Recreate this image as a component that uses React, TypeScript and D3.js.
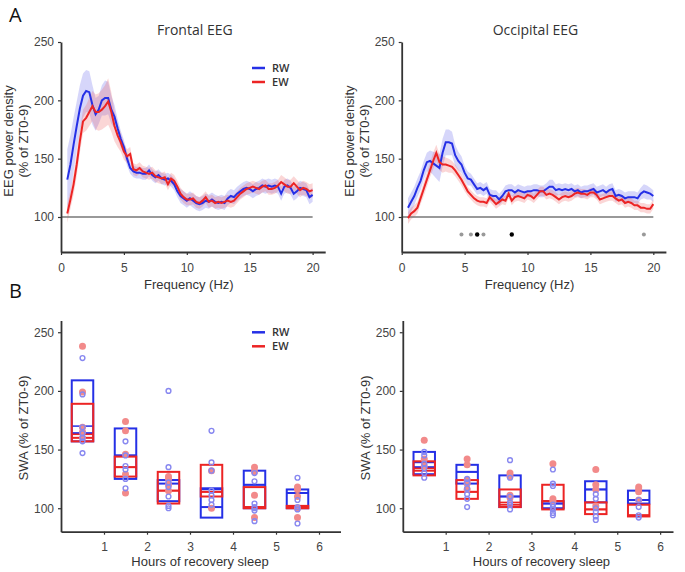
import React, { useEffect, useRef } from 'react';
import * as d3 from 'd3';

// frequency bins (Hz), 0.5 .. 20 in 0.25 steps
const freqs: number[] = d3.range(0.5, 20.01, 0.25);

// Frontal EEG, % of ZT0-9
const frontalRW = [132,145,162,178,193,204,208,207,196,188, 192,200,202,202,192,186,176,167,160,150,
  142,139,138,138,137,137,140,136,134,136, 133,132,133,131,128,122,118,116,114,116,
  114,112,111,112,114,113,115,113,112,113, 112,116,118,117,120,122,124,125,124,122,
  124,125,127,126,127,126,127,126,120,126, 127,125,120,122,125,124,123,117,119];
const frontalRWsem = [26,25,23,21,20,19,18,18,17,14, 12,13,15,14,12,10,8,7,6,6,
  5,5,5,5,5,5,5,5,5,5, 5,5,5,5,5,5,6,6,6,6,
  6,6,6,6,6,6,6,6,6,6, 6,6,6,6,6,6,6,6,6,6,
  6,6,6,6,6,6,6,6,6,6, 6,6,6,6,6,6,6,6,6];
const frontalEW = [103,115,128,145,165,182,185,190,195,190, 190,192,195,199,190,178,170,164,156,152,
  154,141,140,142,139,138,137,138,135,134, 133,134,128,133,131,126,120,117,115,115,
  116,113,112,114,117,113,114,112,113,112, 113,114,113,114,117,120,122,124,125,126,
  125,124,126,127,124,124,125,127,130,128, 126,126,129,126,123,125,124,122,123];
const frontalEWsem = [8,8,9,10,10,10,11,12,13,15, 16,17,18,20,17,13,10,8,7,6,
  6,5,5,5,5,5,5,5,5,5, 5,5,5,5,5,5,5,5,5,5,
  5,5,5,5,5,5,5,5,5,5, 5,5,5,5,5,5,5,5,5,5,
  5,5,5,5,5,5,5,5,6,6, 6,6,6,6,6,6,6,6,6];

// Occipital EEG, % of ZT0-9
const occipitalRW = [108,113,118,125,131,140,147,148,146,144, 142,155,164,164,163,153,148,145,138,133,
  132,128,124,125,123,125,119,118,118,115, 118,122,123,123,121,123,122,121,122,122,
  123,123,122,122,124,126,126,123,124,123, 124,123,124,122,123,121,122,122,123,124,
  121,122,123,121,123,124,118,119,118,116, 117,117,117,116,120,122,121,120,118];
const occipitalRWsem = [8,8,8,8,8,8,8,9,10,11, 12,12,11,11,10,9,8,7,6,6,
  5,5,5,5,5,5,5,5,5,5, 5,5,5,5,5,5,5,5,5,5,
  5,5,5,5,5,6,6,5,5,5, 5,5,5,5,5,5,5,5,5,5,
  5,5,5,5,5,5,5,5,5,5, 5,5,5,5,5,6,6,5,5];
const occipitalEW = [99,103,105,108,116,124,132,140,148,155, 147,145,145,144,143,140,136,132,127,122,
  119,116,114,113,113,112,117,114,111,113, 115,114,120,114,117,118,117,116,119,118,
  116,119,122,122,119,120,119,117,115,117, 118,117,118,120,121,120,120,119,121,121,
  119,115,116,117,118,118,116,114,115,112, 113,112,110,110,108,108,107,107,111];
const occipitalEWsem = [5,5,5,5,5,6,6,6,7,7, 7,7,6,6,5,5,5,5,5,4,
  4,4,4,4,4,4,4,4,4,4, 4,4,4,4,4,4,4,4,4,4,
  4,4,4,4,4,4,4,4,4,4, 4,4,4,4,4,4,4,4,4,4,
  4,4,4,4,4,4,4,4,4,4, 4,4,4,4,4,4,4,4,4];

// significant bins (occipital)
const sigGray = [4.75, 5.5, 6.5, 19.25];
const sigBlack = [6.0, 8.75];
const sigLevel = 85;

// SWA per hour of recovery sleep
const hours = [1, 2, 3, 4, 5, 6];

const frontalBoxRW = {
  q1: [157, 125, 106, 92, 100, 100],
  q3: [209, 168, 124, 117, 132, 116],
  med: [164, 145, 121, 101, 120, 113],
  mean: [170, 145, 124, 116, 120, 113],
};
const frontalBoxEW = {
  q1: [157, 127, 104, 110, 100, 100],
  q3: [189, 144, 131, 137, 118, 102],
  med: [160, 135, 115, 114, 101, 101],
  mean: [163, 135, 115, 114, 101, 101],
};
const frontalPtsRW = [
  [228, 197, 169, 164, 160, 157, 147],
  [157, 145, 136, 133, 125, 117],
  [200, 135, 122, 118, 110, 102, 100],
  [166, 139, 132, 115, 111, 107, 103],
  [130, 123, 104, 101, 100, 98, 89],
  [126, 107, 101, 99, 87],
];
const frontalPtsEW = [
  [238, 199, 169, 165, 160],
  [174, 166, 146, 129, 113],
  [127, 125, 120, 115],
  [132, 100],
  [135, 131, 111, 92],
  [118, 116, 110, 100, 92],
];

const occipitalBoxRW = {
  q1: [129, 121, 101, 100, 105, 104],
  q3: [148, 137, 128, 106, 123, 115],
  med: [135, 131, 110, 104, 116, 107],
  mean: [139, 131, 110, 104, 116, 107],
};
const occipitalBoxEW = {
  q1: [128, 108, 101, 99, 95, 93],
  q3: [140, 124, 116, 120, 105, 103],
  med: [132, 114, 103, 106, 99, 94],
  mean: [134, 114, 105, 106, 99, 94],
};
const occipitalPtsRW = [
  [148, 145, 138, 134, 130, 126],
  [125, 122, 117, 112, 108, 101],
  [141, 126, 110, 105, 103, 99],
  [133, 121, 119, 103, 101, 99, 96, 94],
  [112, 108, 100, 97, 93, 90],
  [107, 101, 94, 92],
];
const occipitalPtsEW = [
  [158, 142, 136],
  [142, 137, 124, 121, 116],
  [130, 127, 111, 109],
  [138, 108, 106],
  [133, 120, 116, 102],
  [118, 116, 114, 107],
];

const BLUE = '#2530e6';
const RED = '#ec2424';
const TXT = '#333';
const SANS = '"Liberation Sans", Arial, sans-serif';
const HUM = '"Open Sans", "Noto Sans", sans-serif';

const App = () => {
  const ref = useRef<SVGSVGElement>(null);

  useEffect(() => {
    if (!ref.current) return;
    const svg = d3.select(ref.current);
    svg.selectAll('*').remove();

    const axes = (x: any, y: any, xTicks: number[], yTicks: number[]) => {
      const g = svg.append('g');
      const y0 = y.range()[0];
      const x0 = x.range()[0];
      g.append('g')
        .attr('transform', `translate(0,${y0})`)
        .call(d3.axisBottom(x).tickValues(xTicks).tickSize(3).tickSizeOuter(0).tickPadding(8).tickFormat(d3.format('d')));
      g.append('g')
        .attr('transform', `translate(${x0},0)`)
        .call(d3.axisLeft(y).tickValues(yTicks).tickSize(3).tickSizeOuter(0).tickPadding(4));
      g.selectAll('.domain').attr('stroke', TXT).attr('stroke-width', 1.8);
      g.selectAll('.tick line').attr('stroke', TXT).attr('stroke-width', 1.2);
      g.selectAll('.tick text').attr('fill', '#444').attr('font-size', 12).attr('font-family', SANS);
    };

    const text = (x: number, y: number, s: string, opts: any = {}) => {
      const t = svg.append('text')
        .attr('x', x).attr('y', y)
        .attr('text-anchor', opts.anchor || 'middle')
        .attr('font-size', opts.size || 13)
        .attr('font-family', opts.family || SANS)
        .attr('font-weight', opts.weight || 'normal')
        .attr('fill', opts.fill || TXT)
        .text(s);
      if (opts.rotate) t.attr('transform', `rotate(-90,${x},${y})`);
      return t;
    };

    const legend = (x: number, y: number) => {
      [{ label: 'RW', c: BLUE }, { label: 'EW', c: RED }].forEach((d, i) => {
        const yy = y + i * 14;
        svg.append('line').attr('x1', x).attr('x2', x + 13).attr('y1', yy).attr('y2', yy)
          .attr('stroke', d.c).attr('stroke-width', 2.5);
        text(x + 20, yy + 4, d.label, { anchor: 'start', size: 11, family: HUM, weight: 600, fill: '#333' });
      });
    };

    // ---------- spectra ----------
    const spectrum = (x0: number, x1: number, title: string, rw: number[], rwSem: number[], ew: number[], ewSem: number[], sig: boolean) => {
      const x = d3.scaleLinear().domain([0, 21]).range([x0, x1]);
      const y = d3.scaleLinear().domain([70, 250]).range([252, 42]);

      const area = (vals: number[], sem: number[]) => d3.area<number>()
        .x((_, i) => x(freqs[i]))
        .y0((d, i) => y(d - sem[i]))
        .y1((d, i) => y(d + sem[i]))(vals);
      const line = d3.line<number>().x((_, i) => x(freqs[i])).y(d => y(d));

      svg.append('path').attr('d', area(rw, rwSem)).attr('fill', 'rgba(90,90,235,0.25)');
      svg.append('path').attr('d', area(ew, ewSem)).attr('fill', 'rgba(240,90,90,0.25)');

      // reference line at 100%
      svg.append('line').attr('x1', x(0)).attr('x2', x(20)).attr('y1', y(100)).attr('y2', y(100))
        .attr('stroke', '#777').attr('stroke-width', 1.5);

      svg.append('path').attr('d', line(rw)).attr('fill', 'none').attr('stroke', BLUE).attr('stroke-width', 2);
      svg.append('path').attr('d', line(ew)).attr('fill', 'none').attr('stroke', RED).attr('stroke-width', 2);

      if (sig) {
        sigGray.forEach(f => svg.append('circle').attr('cx', x(f)).attr('cy', y(sigLevel)).attr('r', 2).attr('fill', '#999'));
        sigBlack.forEach(f => svg.append('circle').attr('cx', x(f)).attr('cy', y(sigLevel)).attr('r', 2.2).attr('fill', '#000'));
      }

      axes(x, y, [0, 5, 10, 15, 20], [100, 150, 200, 250]);
      text((x(0) + x(20)) / 2 + 8, 35, title, { size: 14, family: HUM });
      text((x(0) + x(20)) / 2 + 2, 289, 'Frequency (Hz)', { size: 13 });
      text(x0 - 48, 141, 'EEG power density', { size: 13, rotate: true });
      text(x0 - 33, 141, '(% of ZT0-9)', { size: 13, rotate: true });
    };

    spectrum(61, 325.2, 'Frontal EEG', frontalRW, frontalRWsem, frontalEW, frontalEWsem, false);
    spectrum(401.7, 665.9, 'Occipital EEG', occipitalRW, occipitalRWsem, occipitalEW, occipitalEWsem, true);
    legend(252, 68);

    // ---------- SWA boxes ----------
    const swa = (x0: number, xMax: number, x1: number, bRW: any, bEW: any, pRW: number[][], pEW: number[][]) => {
      const x = d3.scaleLinear().domain([0, xMax]).range([x0, x1]);
      const y = d3.scaleLinear().domain([80, 260]).range([531.7, 320.5]);

      const box = (b: any, c: string) => {
        hours.forEach((h, i) => {
          const xl = x(h - 0.75), xr = x(h - 0.25);
          svg.append('rect').attr('x', xl).attr('y', y(b.q3[i]))
            .attr('width', xr - xl).attr('height', y(b.q1[i]) - y(b.q3[i]))
            .attr('fill', 'none').attr('stroke', c).attr('stroke-width', 2);
          svg.append('line').attr('x1', xl).attr('x2', xr).attr('y1', y(b.med[i])).attr('y2', y(b.med[i]))
            .attr('stroke', c).attr('stroke-width', 2);
          svg.append('line').attr('x1', xl).attr('x2', xr).attr('y1', y(b.mean[i])).attr('y2', y(b.mean[i]))
            .attr('stroke', c).attr('stroke-width', 1.5);
        });
      };
      box(bRW, BLUE);
      box(bEW, RED);

      pEW.forEach((vals, i) => vals.forEach(v => {
        svg.append('circle').attr('cx', x(hours[i] - 0.5)).attr('cy', y(v)).attr('r', 3.5)
          .attr('fill', '#f28a8a');
      }));
      pRW.forEach((vals, i) => vals.forEach(v => {
        svg.append('circle').attr('cx', x(hours[i] - 0.5)).attr('cy', y(v)).attr('r', 2.4)
          .attr('fill', 'none').attr('stroke', '#8888f0').attr('stroke-width', 1.4);
      }));

      axes(x, y, hours, [100, 150, 200, 250]);
      text((x(0) + x(6)) / 2 + 10, 566, 'Hours of recovery sleep', { size: 13 });
      text(x0 - 33, 428, 'SWA (% of ZT0-9)', { size: 13, rotate: true });
    };

    swa(61, 6.5, 340.5, frontalBoxRW, frontalBoxEW, frontalPtsRW, frontalPtsEW);
    swa(402.8, 6.3, 673, occipitalBoxRW, occipitalBoxEW, occipitalPtsRW, occipitalPtsEW);
    legend(252, 332.3);

    // panel letters
    text(9, 22, 'A', { anchor: 'start', size: 20, family: HUM, fill: '#111' });
    text(9, 298, 'B', { anchor: 'start', size: 20, family: HUM, fill: '#111' });
  }, []);

  return (
    <svg
      ref={ref}
      width={685}
      height={572}
      style={{ position: 'absolute', left: 0, top: 0, background: '#fff' }}
    />
  );
};

export default App;
